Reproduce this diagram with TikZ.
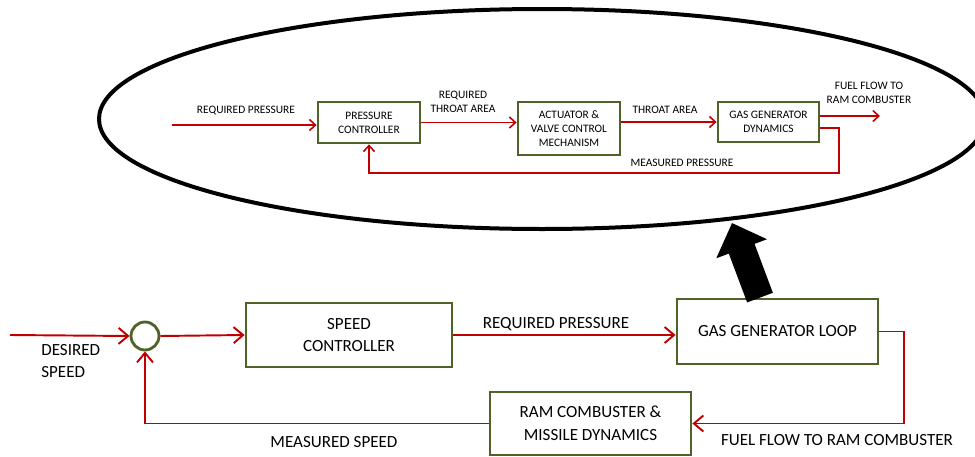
\documentclass[tikz,border=0pt]{standalone}
\usepackage{fontspec}
\setmainfont{Carlito}
\usetikzlibrary{arrows.meta}
\definecolor{sred}{RGB}{192,0,0}
\definecolor{olv}{RGB}{79,98,40}
\tikzset{
  blk/.style={draw=olv,line width=1.6pt,fill=white,align=center,inner sep=0pt},
  big/.style={font=\fontsize{9.7}{13}\selectfont},
  small/.style={font=\fontsize{6.5}{8}\selectfont},
  sig/.style={draw=sred,line width=1.1pt,-{Straight Barb[length=1.9mm,width=3.2mm]}},
  sigs/.style={draw=sred,line width=0.9pt,-{Straight Barb[length=1.2mm,width=2.2mm]}},
  lbl/.style={inner sep=0pt,align=center}
}
\begin{document}
\begin{tikzpicture}[x=0.02cm,y=-0.02cm]
\useasboundingbox (0,0) rectangle (975,457);
%gas generator loop, zoomed
\draw[line width=0.08cm] (542,119) ellipse [x radius=443, y radius=110];
\node[blk,small,minimum width=2.04cm,minimum height=0.82cm] (pc) at (369,122.5) {PRESSURE\\CONTROLLER};
\node[blk,small,minimum width=2.04cm,minimum height=1.06cm] (avc) at (569,128.5) {ACTUATOR \&\\VALVE CONTROL\\MECHANISM};
\node[blk,small,minimum width=2.02cm,minimum height=0.80cm] (ggd) at (768.5,122) {GAS GENERATOR\\DYNAMICS};
\coordinate (rpin) at (172,125);
\coordinate (ffout) at (880,116);
\coordinate (mp) at (839,173);
\draw[sigs] (rpin) -- (rpin -| pc.west);
\draw[sigs] (pc.east) -- (pc.east -| avc.west);
\draw[sigs] (ggd.west -| avc.east) -- (ggd.west);
\draw[sigs] (ffout -| ggd.east) -- (ffout);
\draw[sigs] ([yshift=-0.12cm]ggd.east) -| (mp) -| (pc.south);
\node[lbl,small] (lrp) at (246,111) {REQUIRED PRESSURE};
\node[lbl,small] (lrta) at (463,102) {REQUIRED\\THROAT AREA};
\node[lbl,small] (lta) at (665,110) {THROAT AREA};
\node[lbl,small] (lff) at (869,93) {FUEL FLOW TO\\RAM COMBUSTER};
\node[lbl,small] (lmp) at (682,163) {MEASURED PRESSURE};
%speed loop
\node[draw=olv,line width=1.6pt,circle,minimum size=0.56cm,inner sep=0pt] (sum) at (145,336) {};
\node[blk,big,minimum width=4.12cm,minimum height=1.28cm] (sc) at (349,335) {SPEED\\CONTROLLER};
\node[blk,big,minimum width=4.02cm,minimum height=1.30cm] (ggl) at (777.5,331.5) {GAS GENERATOR LOOP};
\node[blk,big,minimum width=4.02cm,minimum height=1.26cm] (ram) at (590.5,423.5) {RAM COMBUSTER \&\\MISSILE DYNAMICS};
\coordinate (dsin) at (10,335);
\draw[sig] (dsin) -- (sum.west);
\draw[sig] (sum.east) -- (sc.west);
\draw[sig] (sc.east) -- (sc.east -| ggl.west);
\draw[sig] (ggl.east) -- ++(25,0) |- (ram.east);
\draw[sig] (ram.west) -| (sum.south);
\node[lbl,big,anchor=west,align=left] (lds) at (41,361) {DESIRED\\SPEED};
\node[lbl,big] (lrp2) at (556,324) {REQUIRED PRESSURE};
\node[lbl,big] (lff2) at (837,440) {FUEL FLOW TO RAM COMBUSTER};
\node[lbl,big] (lms) at (334,442) {MEASURED SPEED};
%zoom arrow
\coordinate (zoomtip) at (732,223);
\draw[line width=0.55cm,-{Triangle[length=0.55cm,width=1.05cm]}] ([xshift=-0.35cm]ggl.north) -- (zoomtip);
\end{tikzpicture}
\end{document}
